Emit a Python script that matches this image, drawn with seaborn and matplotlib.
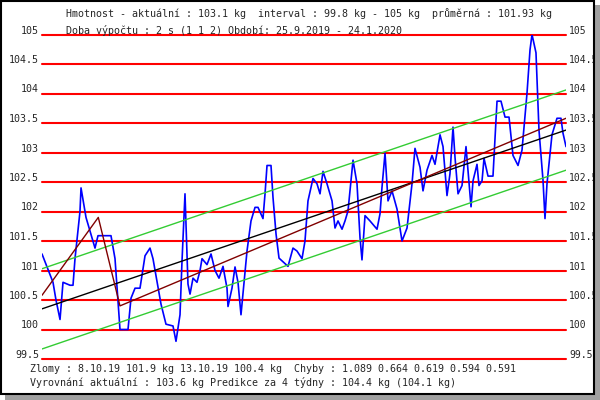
import matplotlib
matplotlib.use('Agg')
import matplotlib.pyplot as plt
import seaborn as sns
import pandas as pd
from matplotlib.patches import Rectangle

# dny od 25.9.2019 a odectena hmotnost (kg)
den = [0.0, 2.54, 3.23, 4.16, 4.85, 6.47, 7.16, 7.62, 8.77, 9.01, 10.16, 12.24, 12.93,
       15.93, 16.86, 18.01, 19.86, 20.55, 21.48, 22.63, 23.79, 24.94, 25.63, 27.48, 28.63,
       30.25, 30.94, 31.87, 32.33, 33.02, 33.71, 34.18, 34.87, 35.79, 36.49, 36.95, 38.10,
       39.03, 39.95, 40.87, 41.80, 42.72, 42.95, 43.87, 44.57, 45.26, 45.95, 46.65, 47.34,
       48.26, 49.19, 49.88, 51.03, 51.50, 51.96, 52.88, 53.34, 54.04, 54.73, 56.81, 57.96,
       58.88, 60.04, 60.73, 61.42, 62.58, 63.50, 64.20, 64.89, 65.81, 66.97, 67.66, 68.35,
       69.28, 69.97, 70.66, 71.82, 72.74, 73.43, 73.89, 74.59, 75.74, 77.36, 78.05, 78.51,
       79.21, 79.90, 80.82, 81.98, 83.13, 84.29, 85.44, 86.13, 87.29, 87.98, 88.90, 90.06,
       90.75, 91.91, 92.60, 93.52, 94.21, 94.91, 95.37, 96.07, 96.99, 97.91, 98.37, 99.07,
       99.53, 100.45, 100.91, 101.61, 102.07, 102.99, 104.14, 105.07, 105.99, 106.92,
       107.84, 108.76, 109.92, 110.84, 111.99, 112.69, 113.15, 114.07, 114.76, 115.69,
       116.15, 116.61, 117.76, 118.92, 119.84, 120.30, 121.0]
hmotnost = [101.28, 100.80, 100.50, 100.17, 100.80, 100.75, 100.75, 101.20, 102.00, 102.40,
            101.90, 101.38, 101.59, 101.59, 101.20, 100.00, 100.00, 100.53, 100.70, 100.70,
            101.25, 101.38, 101.20, 100.43, 100.09, 100.06, 99.80, 100.25, 101.16, 102.30,
            100.77, 100.60, 100.87, 100.80, 101.00, 101.20, 101.10, 101.28, 101.00, 100.87,
            101.07, 100.70, 100.39, 100.70, 101.06, 100.80, 100.25, 100.80, 101.33, 101.84,
            102.07, 102.07, 101.88, 102.30, 102.78, 102.78, 102.24, 101.62, 101.21, 101.07,
            101.38, 101.33, 101.20, 101.50, 102.18, 102.56, 102.47, 102.30, 102.68, 102.47,
            102.18, 101.72, 101.84, 101.70, 101.84, 102.01, 102.87, 102.47, 101.56, 101.18,
            101.93, 101.84, 101.70, 101.96, 102.41, 102.99, 102.18, 102.35, 102.04, 101.50,
            101.72, 102.47, 103.07, 102.75, 102.35, 102.70, 102.95, 102.80, 103.30, 103.10,
            102.27, 102.64, 103.43, 102.92, 102.30, 102.44, 103.10, 102.70, 102.08, 102.52,
            102.80, 102.44, 102.52, 102.90, 102.60, 102.60, 103.87, 103.87, 103.60, 103.60,
            102.95, 102.78, 103.04, 104.00, 104.74, 105.00, 104.69, 103.38, 102.53, 101.88,
            102.47, 103.30, 103.58, 103.58, 103.33, 103.10]

# lomena primka (zlomy 8.10. a 13.10.)
zlom_den = [0, 13, 18, 121]
zlom_kg = [100.58, 101.9, 100.4, 103.58]

# linearni trend a pasmo
trend_den = [0, 121]
trend_kg = [100.35, 103.38]
pasmo = 0.68

osa_y = [105, 104.5, 104, 103.5, 103, 102.5, 102, 101.5, 101, 100.5, 100, 99.5]

radek1 = "Hmotnost - aktuální : 103.1 kg  interval : 99.8 kg - 105 kg  průměrná : 101.93 kg"
radek2 = "Doba výpočtu : 2 s (1 1 2) Období: 25.9.2019 - 24.1.2020"
radek3 = "Zlomy : 8.10.19 101.9 kg 13.10.19 100.4 kg  Chyby : 1.089 0.664 0.619 0.594 0.591"
radek4 = "Vyrovnání aktuální : 103.6 kg Predikce za 4 týdny : 104.4 kg (104.1 kg)"

sns.set_style("white")
plt.rcParams['font.family'] = ['DejaVu Sans Mono']

fig = plt.figure(figsize=(6, 4), dpi=100, facecolor='white')
ax = fig.add_axes([42 / 600, 1 - 359 / 400, 524 / 600, 324.5 / 400])
ax.set_xlim(0, 121)
ax.set_ylim(99.5, 105)
ax.axis('off')

for v in osa_y:
    ax.axhline(v, color='#ff0000', lw=1.5, zorder=1, clip_on=False)
    ax.annotate(f"{v:g}", (0, v), xytext=(-3, 4), textcoords='offset pixels',
                ha='right', va='center', fontsize=7.2, annotation_clip=False)
    ax.annotate(f"{v:g}", (121, v), xytext=(3, 4), textcoords='offset pixels',
                ha='left', va='center', fontsize=7.0, annotation_clip=False)

df = pd.DataFrame({'den': den, 'kg': hmotnost})
sns.lineplot(data=df, x='den', y='kg', color='#0000ff', lw=1.2, estimator=None,
             sort=False, ax=ax, zorder=3)
sns.lineplot(x=trend_den, y=[k + pasmo for k in trend_kg], color='#33cc33', lw=1,
             estimator=None, ax=ax, zorder=4)
sns.lineplot(x=trend_den, y=[k - pasmo for k in trend_kg], color='#33cc33', lw=1,
             estimator=None, ax=ax, zorder=4)
sns.lineplot(x=trend_den, y=trend_kg, color='black', lw=1, estimator=None, ax=ax, zorder=4)
sns.lineplot(x=zlom_den, y=zlom_kg, color='#800000', lw=1, estimator=None, ax=ax, zorder=4)

fig.text(66 / 600, 1 - 14 / 400, radek1, fontsize=7.2, va='center')
fig.text(66 / 600, 1 - 30 / 400, radek2, fontsize=7.2, va='center')
fig.text(30 / 600, 1 - 369 / 400, radek3, fontsize=7.2, va='center')
fig.text(30 / 600, 1 - 383 / 400, radek4, fontsize=7.2, va='center')

# ramecek se stinem
fig.add_artist(Rectangle((595 / 600, 0), 5 / 600, 395 / 400, transform=fig.transFigure,
                         facecolor='#a0a0a0', edgecolor='none', zorder=10))
fig.add_artist(Rectangle((5 / 600, 0), 595 / 600, 5 / 400, transform=fig.transFigure,
                         facecolor='#a0a0a0', edgecolor='none', zorder=10))
fig.add_artist(Rectangle((1 / 600, 6 / 400), 593 / 600, 393 / 400, transform=fig.transFigure,
                         facecolor='none', edgecolor='black', lw=1.5, zorder=11))

fig.savefig('out.png', dpi=100)
